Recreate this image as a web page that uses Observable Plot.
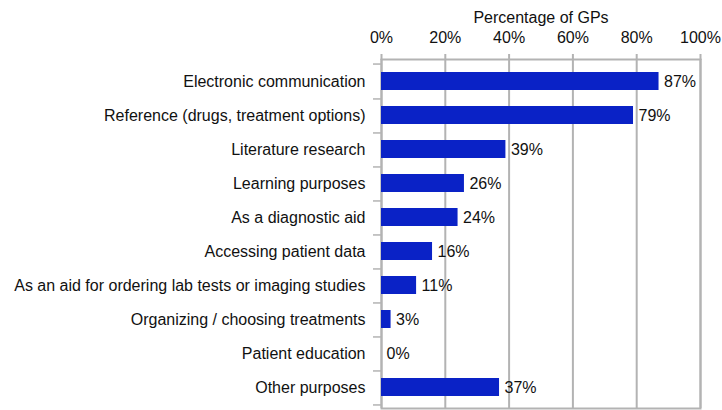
<!DOCTYPE html>
<html>
<head>
<meta charset="utf-8">
<script src="https://cdn.jsdelivr.net/npm/d3@7"></script>
<script src="https://cdn.jsdelivr.net/npm/@observablehq/plot@0.6"></script>
<style>
  html, body { margin: 0; padding: 0; background: #fff; }
  svg { font-family: "Liberation Sans", Arial, Helvetica, sans-serif; }
</style>
</head>
<body>
<div id="chart"></div>
<script>
const categories = [
  "Electronic communication",
  "Reference (drugs, treatment options)",
  "Literature research",
  "Learning purposes",
  "As a diagnostic aid",
  "Accessing patient data",
  "As an aid for ordering lab tests or imaging studies",
  "Organizing / choosing treatments",
  "Patient education",
  "Other purposes"
];
const values = [87, 79, 39, 26, 24, 16, 11, 3, 0, 37];
const xTicks = [0, 20, 40, 60, 80, 100];
const axisTitle = "Percentage of GPs";

const data = categories.map((c, i) => ({category: c, value: values[i]}));

const width = 722, height = 410;
const marginTop = 59, marginBottom = 2, marginLeft = 381, marginRight = 22;
const step = (height - marginTop - marginBottom) / categories.length;
const gray = "#b3b3b3";
const barColor = "#0a22c6";

const chart = Plot.plot({
  width, height, marginTop, marginBottom, marginLeft, marginRight,
  style: {fontSize: "16px", fontFamily: '"Liberation Sans", Arial, Helvetica, sans-serif', color: "#111", background: "#fff"},
  x: {domain: [0, 100]},
  y: {domain: categories, paddingInner: 0.48, paddingOuter: 0.24, align: 0.5},
  marks: [
    Plot.gridX(xTicks, {stroke: gray, strokeOpacity: 1, strokeWidth: 2}),
    Plot.frame({stroke: gray, strokeWidth: 2}),
    Plot.axisX(xTicks, {anchor: "top", tickSize: 6, tickPadding: 11, stroke: gray, strokeWidth: 2,
      tickFormat: d => d + "%", label: null, fill: "#111", fontSize: 16}),
    Plot.axisY({tickSize: 0, tickPadding: 16, label: null, fill: "#111", fontSize: 16}),
    Plot.axisY({tickSize: 8, text: null, label: null, dy: step / 2, stroke: gray, strokeWidth: 1.5}),
    Plot.axisY([categories[0]], {tickSize: 8, text: null, label: null, dy: -step / 2, stroke: gray, strokeWidth: 1.5}),
    Plot.barX(data, {x: "value", y: "category", fill: barColor}),
    Plot.text(data, {x: "value", y: "category", text: d => d.value + "%", textAnchor: "start", dx: 5, fill: "#111", fontSize: 16}),
    Plot.text([axisTitle], {frameAnchor: "top", dy: -48, fill: "#111", fontSize: 16})
  ]
});
document.getElementById("chart").appendChild(chart);
</script>
</body>
</html>
